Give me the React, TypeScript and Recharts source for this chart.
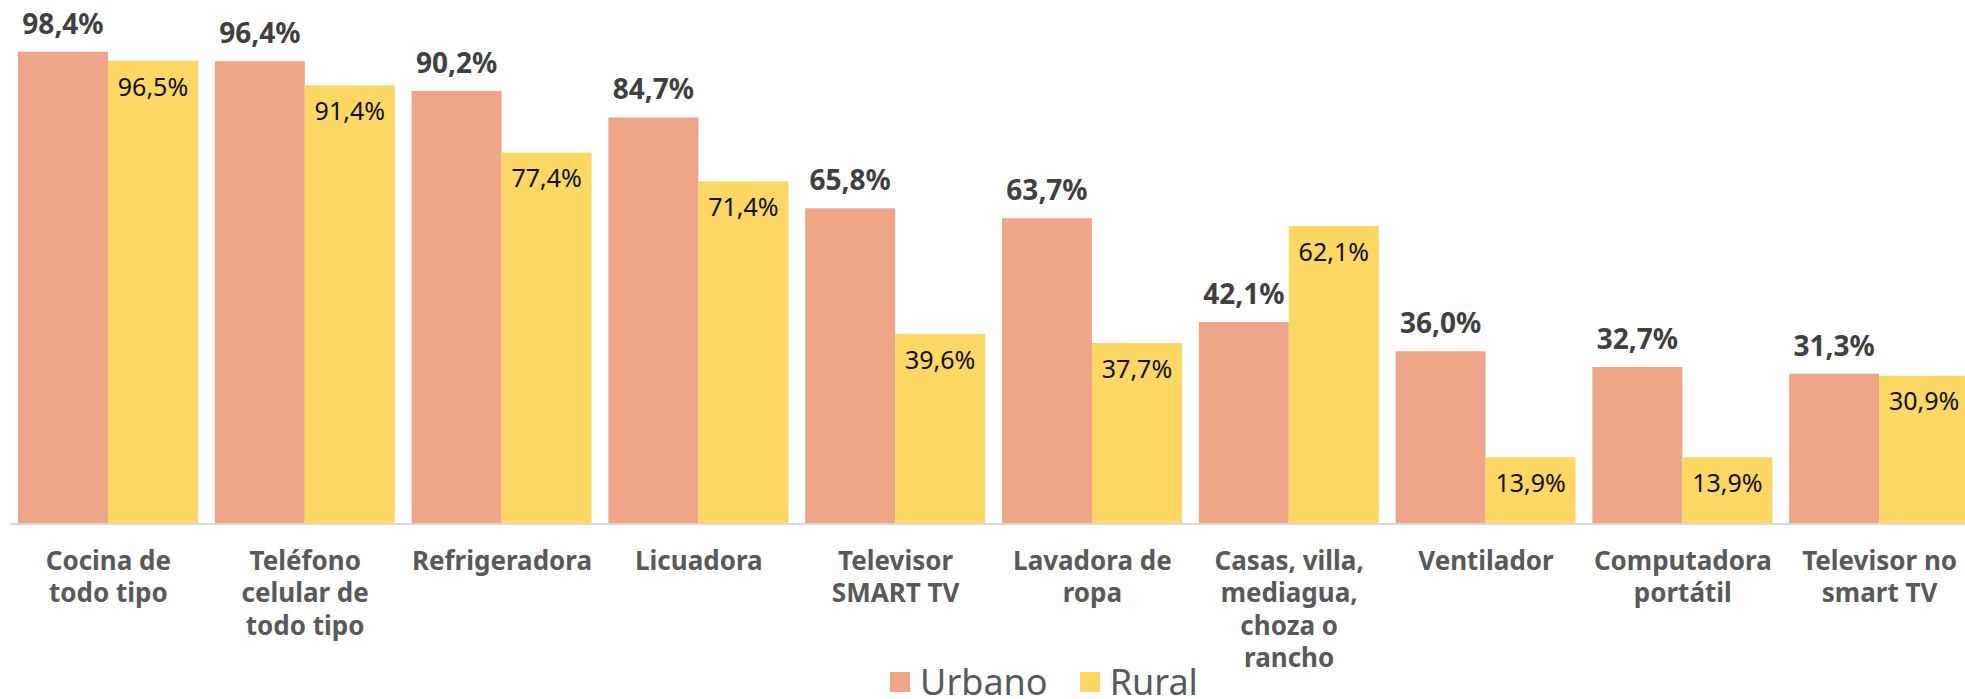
import { Bar, BarChart, LabelList, Legend, XAxis, YAxis } from "recharts";

const categories = [
  "Cocina de\ntodo tipo",
  "Teléfono\ncelular de\ntodo tipo",
  "Refrigeradora",
  "Licuadora",
  "Televisor\nSMART TV",
  "Lavadora de\nropa",
  "Casas, villa,\nmediagua,\nchoza o\nrancho",
  "Ventilador",
  "Computadora\nportátil",
  "Televisor no\nsmart TV",
];
const urbano = [98.4, 96.4, 90.2, 84.7, 65.8, 63.7, 42.1, 36.0, 32.7, 31.3];
const rural = [96.5, 91.4, 77.4, 71.4, 39.6, 37.7, 62.1, 13.9, 13.9, 30.9];
const seriesOrder = ["urbano", "rural"];

const data = categories.map((name, i) => ({ name, urbano: urbano[i], rural: rural[i] }));

const font = "'Noto Sans', sans-serif";
const fmt = (v: any) => Number(v).toFixed(1).replace(".", ",") + "%";

function CategoryTick({ x, y, payload }: any) {
  const lines = String(payload.value).split("\n");
  return (
    <text x={x} y={y} textAnchor="middle" fill="#595959" fontFamily={font} fontSize={26} fontWeight={700}>
      {lines.map((line, i) => (
        <tspan key={i} x={x} dy={i === 0 ? 46 : 32.3}>
          {line}
        </tspan>
      ))}
    </text>
  );
}

function LegendContent({ payload }: any) {
  const items = [...(payload || [])].sort((a: any, b: any) => seriesOrder.indexOf(a.dataKey) - seriesOrder.indexOf(b.dataKey));
  return (
    <div style={{ display: "flex", justifyContent: "center", alignItems: "center", fontFamily: font, fontSize: 36, lineHeight: "36px", color: "#595959" }}>
      {items.map((entry: any, i: number) => (
        <div key={i} style={{ display: "flex", alignItems: "center", marginRight: i === items.length - 1 ? 0 : 32 }}>
          <span style={{ width: 20, height: 20, background: entry.color, marginRight: 10, display: "inline-block" }} />
          <span>{entry.value}</span>
        </div>
      ))}
    </div>
  );
}

export default function App() {
  return (
    <div style={{ position: "absolute", left: 0, top: 0, width: 1965, height: 699, overflow: "hidden", background: "#fff" }}>
      <BarChart width={2088} height={699} data={data} margin={{ top: 44, right: 110, bottom: 25, left: 10 }} barSize={90} barGap={0}>
        <XAxis
          dataKey="name"
          interval={0}
          tickLine={false}
          tickSize={0}
          tickMargin={0}
          height={150}
          axisLine={{ stroke: "#D9D9D9", strokeWidth: 2 }}
          tick={<CategoryTick />}
        />
        <YAxis hide domain={[0, 100]} />
        <Legend
          verticalAlign="middle"
          align="center"
          layout="horizontal"
          wrapperStyle={{ top: 664, left: 0, width: 2088 }}
          content={<LegendContent />}
        />
        <Bar dataKey="urbano" name="Urbano" fill="#EFA688" isAnimationActive={false}>
          <LabelList dataKey="urbano" position="top" offset={18} formatter={fmt} fill="#404040" fontFamily={font} fontSize={28} fontWeight={700} />
        </Bar>
        <Bar dataKey="rural" name="Rural" fill="#FDD764" isAnimationActive={false}>
          <LabelList dataKey="rural" position="insideTop" offset={17} formatter={fmt} fill="#111111" fontFamily={font} fontSize={25} fontWeight={400} />
        </Bar>
      </BarChart>
    </div>
  );
}
